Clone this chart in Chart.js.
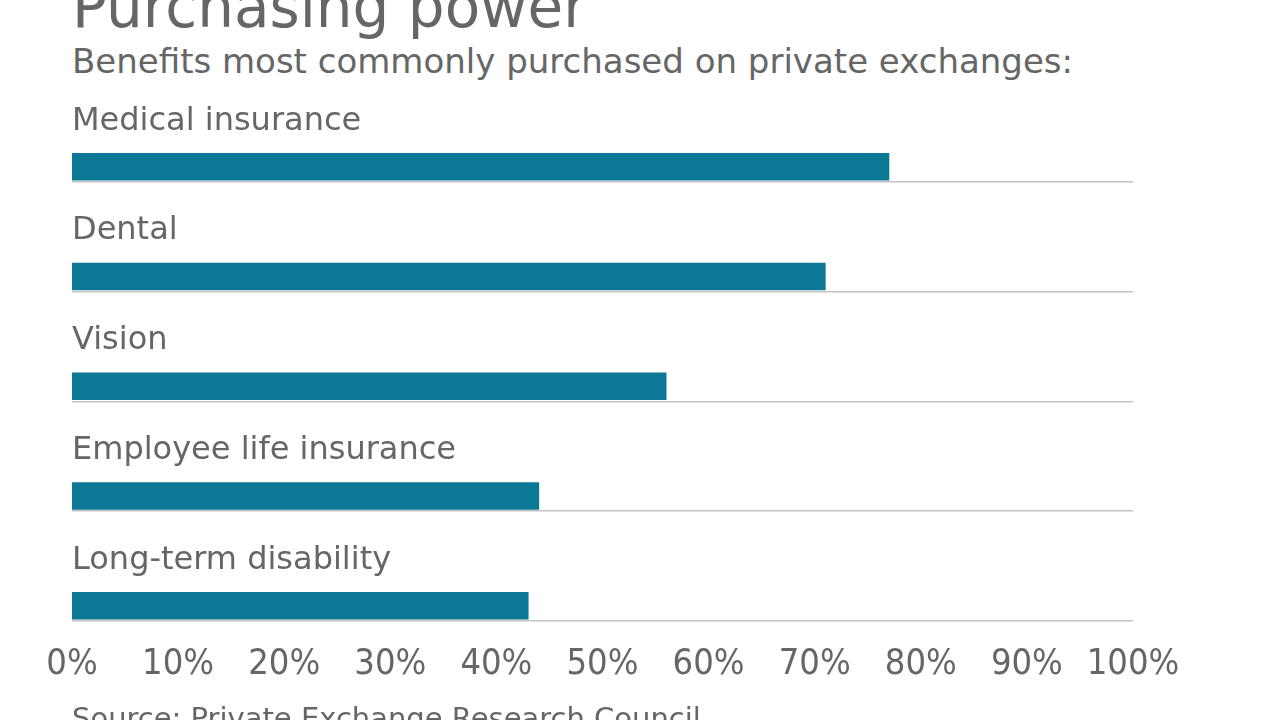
<!DOCTYPE html>
<html>
<head>
<meta charset="utf-8">
<script src="https://cdn.jsdelivr.net/npm/chart.js@4.4.1/dist/chart.umd.min.js"></script>
<style>
  html, body { margin: 0; padding: 0; background: #fff; overflow: hidden; }
  body { width: 1280px; height: 720px; position: relative; font-family: "DejaVu Sans", sans-serif; color: #666; }
  .txt { position: absolute; left: 72px; line-height: 1; white-space: nowrap; }
  #title { top: -22px; font-size: 58px; }
  #subtitle { top: 44px; font-size: 34px; }
  #source { top: 704px; font-size: 29px; }
  #wrap { position: absolute; left: 0; top: 0; width: 1280px; height: 720px; }
</style>
</head>
<body>
<div id="title" class="txt">Purchasing power</div>
<div id="subtitle" class="txt">Benefits most commonly purchased on private exchanges:</div>
<div id="wrap"><canvas id="chart"></canvas></div>
<div id="source" class="txt">Source: Private Exchange Research Council</div>
<script>
// 数据
const categories = ['Medical insurance', 'Dental', 'Vision', 'Employee life insurance', 'Long-term disability'];
const percentages = [77, 71, 56, 44, 43];
const xTicks = [0, 10, 20, 30, 40, 50, 60, 70, 80, 90, 100];

const textColor = '#666666';
const barColor = '#0d7896';
const fontFamily = '"DejaVu Sans", sans-serif';
const tickFamily = '"DejaVu Sans Condensed", "DejaVu Sans", sans-serif';

// 分类标签画在每根柱子上方
const categoryLabels = {
    id: 'categoryLabels',
    afterDatasetsDraw(chart) {
        const ctx = chart.ctx;
        const meta = chart.getDatasetMeta(0);
        ctx.save();
        ctx.fillStyle = textColor;
        ctx.font = '32px ' + fontFamily;
        ctx.textAlign = 'left';
        ctx.textBaseline = 'alphabetic';
        meta.data.forEach((bar, i) => {
            ctx.fillText(categories[i], chart.chartArea.left, bar.y - 37);
        });
        ctx.restore();
    }
};

const ctx = document.getElementById('chart').getContext('2d');
const chart = new Chart(ctx, {
    type: 'bar',
    data: {
        datasets: [{
            data: percentages.map((v, i) => ({ x: v, y: i })),
            backgroundColor: barColor,
            borderWidth: 0,
            barThickness: 27
        }]
    },
    options: {
        indexAxis: 'y',
        responsive: true,
        maintainAspectRatio: false,
        animation: false,
        layout: { padding: { left: 72, right: 147, top: 20, bottom: 12 } },
        plugins: {
            legend: { display: false },
            tooltip: { enabled: false }
        },
        scales: {
            x: {
                type: 'linear',
                min: 0,
                max: 100,
                afterBuildTicks: (scale) => { scale.ticks = xTicks.map(v => ({ value: v })); },
                grid: { display: false, drawTicks: false },
                border: { display: false },
                ticks: {
                    color: textColor,
                    font: { family: tickFamily, size: 36 },
                    padding: 22,
                    callback: (v) => v + '%'
                }
            },
            y: {
                type: 'linear',
                reverse: true,
                offset: false,
                min: -1.337,
                max: 4.137,
                afterBuildTicks: (scale) => { scale.ticks = categories.map((c, i) => ({ value: i + 0.137 })); },
                grid: { offset: false, color: '#c4c4c4', lineWidth: 1.5, drawTicks: false },
                border: { display: false },
                ticks: { display: false }
            }
        }
    },
    plugins: [categoryLabels]
});
</script>
</body>
</html>
